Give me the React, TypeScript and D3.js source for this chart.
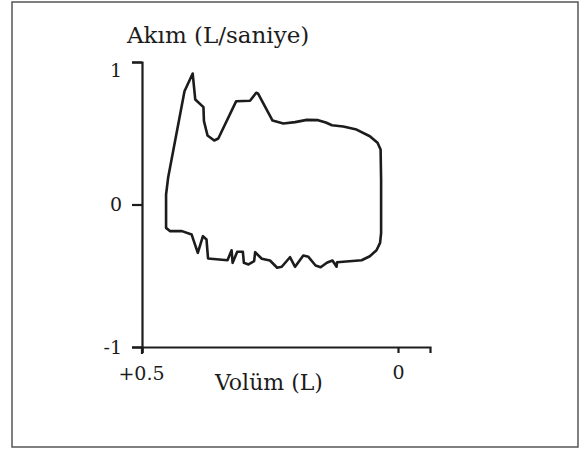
import React, { useEffect, useRef } from 'react';
import * as d3 from 'd3';

// flow-volume loop, traced in drawing order (volume in L, flow in L/s)
const loopVolume = [
  0.453, 0.453, 0.449, 0.417, 0.401, 0.396, 0.38, 0.379, 0.372, 0.359, 0.351, 0.316,
  0.289, 0.277, 0.273, 0.245, 0.224, 0.201, 0.178, 0.156, 0.141, 0.129, 0.107, 0.081,
  0.055, 0.04, 0.034, 0.033, 0.033, 0.035, 0.042, 0.055, 0.071, 0.119, 0.12, 0.128,
  0.139, 0.151, 0.161, 0.175, 0.185, 0.201, 0.211, 0.227, 0.236, 0.25, 0.266, 0.279,
  0.281, 0.292, 0.301, 0.303, 0.314, 0.323, 0.325, 0.333, 0.371, 0.374, 0.381, 0.391,
  0.403, 0.422, 0.445,
];
const loopFlow = [
  -0.164, 0.07, 0.187, 0.795, 0.919, 0.737, 0.683, 0.585, 0.484, 0.449, 0.463, 0.725,
  0.728, 0.784, 0.777, 0.589, 0.568, 0.578, 0.594, 0.592, 0.575, 0.556, 0.547, 0.526,
  0.479, 0.433, 0.386, 0.175, -0.2, -0.269, -0.321, -0.363, -0.391, -0.405, -0.437, -0.393,
  -0.409, -0.44, -0.428, -0.367, -0.358, -0.437, -0.37, -0.437, -0.444, -0.393, -0.381, -0.335,
  -0.398, -0.421, -0.409, -0.332, -0.332, -0.409, -0.321, -0.391, -0.379, -0.246, -0.222, -0.339,
  -0.211, -0.187, -0.187,
];

const xTicks = [0.5, 0];
const xTickLabels = ['+0.5', '0'];
const yTicks = [1, 0, -1];
const yTickLabels = ['1', '0', '-1'];

const App = () => {
  const svgRef = useRef<SVGSVGElement>(null);

  useEffect(() => {
    const svgEl = d3.select(svgRef.current);
    svgEl.selectAll('*').remove();

    const ink = '#1c1c1c';
    const font = 'DejaVu Serif, serif';

    // outer frame
    svgEl
      .append('rect')
      .attr('x', 12)
      .attr('y', 2)
      .attr('width', 566)
      .attr('height', 445)
      .attr('fill', 'none')
      .attr('stroke', '#555')
      .attr('stroke-width', 1.5);

    const xScale = d3.scaleLinear().domain([0.5, -0.0625]).range([142, 430]);
    const yScale = d3.scaleLinear().domain([-1, 1]).range([347, 62]);

    // X axis
    const xAxis = d3
      .axisBottom(xScale)
      .tickValues(xTicks)
      .tickSize(6)
      .tickSizeOuter(6)
      .tickFormat((d, i) => xTickLabels[i]);
    const xAxisGroup = svgEl
      .append('g')
      .attr('transform', `translate(0, ${yScale(-1)})`)
      .call(xAxis);
    xAxisGroup.select('.domain').attr('stroke', ink).attr('stroke-width', 2.2);
    xAxisGroup.selectAll('line').attr('stroke', ink).attr('stroke-width', 2.2);
    xAxisGroup
      .selectAll('text')
      .attr('fill', ink)
      .attr('font-family', font)
      .attr('font-size', 19)
      .attr('y', 32)
      .attr('dy', 0);
    xAxisGroup.selectAll('.tick text').filter((d) => d === 0.5).attr('dx', -1).attr('y', 33);

    // Y axis
    const yAxis = d3
      .axisLeft(yScale)
      .tickValues(yTicks)
      .tickSize(10)
      .tickSizeOuter(10)
      .tickFormat((d, i) => yTickLabels[i]);
    const yAxisGroup = svgEl
      .append('g')
      .attr('transform', `translate(${xScale(0.5)}, 0)`)
      .call(yAxis);
    yAxisGroup.select('.domain').attr('stroke', ink).attr('stroke-width', 2.2);
    yAxisGroup.selectAll('line').attr('stroke', ink).attr('stroke-width', 2.2);
    yAxisGroup
      .selectAll('text')
      .attr('fill', ink)
      .attr('font-family', font)
      .attr('font-size', 19)
      .attr('x', -20);
    yAxisGroup.selectAll('.tick text').filter((d) => d === 1).attr('dy', '0.78em');

    // y axis continues a little below the x axis
    svgEl
      .append('line')
      .attr('x1', xScale(0.5))
      .attr('x2', xScale(0.5))
      .attr('y1', yScale(-1))
      .attr('y2', yScale(-1) + 7)
      .attr('stroke', ink)
      .attr('stroke-width', 2.2);

    // axis titles
    svgEl
      .append('text')
      .attr('x', 127)
      .attr('y', 43)
      .attr('font-family', font)
      .attr('font-size', 23)
      .attr('fill', ink)
      .text('Akım (L/saniye)');
    svgEl
      .append('text')
      .attr('x', 215)
      .attr('y', 390)
      .attr('font-family', font)
      .attr('font-size', 22)
      .attr('fill', ink)
      .text('Volüm (L)');

    // the loop
    const points = loopVolume.map((v, i) => [v, loopFlow[i]] as [number, number]);
    const line = d3
      .line<[number, number]>()
      .x((d) => xScale(d[0]))
      .y((d) => yScale(d[1]))
      .curve(d3.curveLinearClosed);

    svgEl
      .append('path')
      .attr('fill', 'none')
      .attr('stroke', ink)
      .attr('stroke-width', 2.6)
      .attr('stroke-linejoin', 'round')
      .attr('d', line(points));
  }, []);

  return (
    <svg
      ref={svgRef}
      width={580}
      height={450}
      style={{ position: 'absolute', left: 0, top: 0, background: '#fff' }}
    />
  );
};

export default App;
